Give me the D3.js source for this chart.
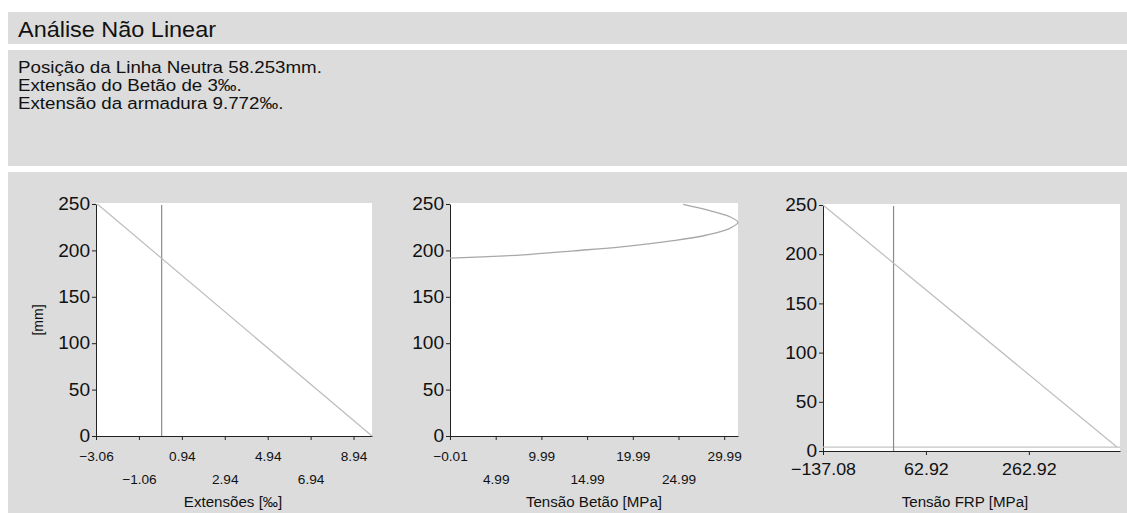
<!DOCTYPE html>
<html>
<head>
<meta charset="utf-8">
<script src="https://cdn.jsdelivr.net/npm/d3@7"></script>
<style>
  html, body { margin: 0; padding: 0; background: #ffffff; }
  svg { display: block; font-family: "Liberation Sans", Arial, sans-serif; }
</style>
</head>
<body>
<svg id="chart" width="1127" height="513"></svg>
<script>
// Cabeçalho e resultados
const titulo = "Análise Não Linear";
const resultados = [
  "Posição da Linha Neutra 58.253mm.",
  "Extensão do Betão de 3‰.",
  "Extensão da armadura 9.772‰."
];

// Diagrama de extensões
const extensoesValor = [-3.0, 9.80];
const extensoesAltura = [250, 0];
const extensoesTicks = [-3.06, -1.06, 0.94, 2.94, 4.94, 6.94, 8.94];

// Diagrama de tensões no betão
const betaoTensao = [0, 3.5, 8.0, 13.5, 19.0, 24.4, 28.1, 30.6, 31.5, 30.6, 28.4, 25.5];
const betaoAltura = [191.7, 193.0, 195.2, 199.5, 204.1, 210.5, 216.6, 223.8, 230.3, 236.3, 242.8, 249.5];
const betaoTicks = [-0.01, 4.99, 9.99, 14.99, 19.99, 24.99, 29.99];

// Diagrama de tensões no FRP
const frpTensao = [-137.08, 434];
const frpAltura = [250, 4];
const frpArmaduraAltura = 4;
const frpTicks = [-137.08, 62.92, 262.92];

const alturaTicks = [0, 50, 100, 150, 200, 250];

const svg = d3.select("#chart");

// Alarga ligeiramente o texto na horizontal
function alargar(sel, k) {
  sel.each(function () {
    const w = this.getComputedTextLength();
    d3.select(this).attr("textLength", w * k).attr("lengthAdjust", "spacingAndGlyphs");
  });
}

// Painéis cinzentos
const painelCor = "#dcdcdc";
svg.append("rect").attr("x", 8).attr("y", 12).attr("width", 1119).attr("height", 32).attr("fill", painelCor);
svg.append("rect").attr("x", 8).attr("y", 50).attr("width", 1119).attr("height", 116).attr("fill", painelCor);
svg.append("rect").attr("x", 8).attr("y", 172).attr("width", 1119).attr("height", 341).attr("fill", painelCor);

svg.append("text").attr("x", 18).attr("y", 37).attr("font-size", 22).attr("fill", "#111")
  .text(titulo).call(alargar, 1.065);
svg.selectAll("text.res").data(resultados).join("text")
  .attr("class", "res")
  .attr("x", 18).attr("y", (d, i) => 73 + i * 18)
  .attr("font-size", 16).attr("fill", "#111").text(d => d)
  .call(alargar, 1.17);

function grafico(cfg) {
  const x = d3.scaleLinear().domain(cfg.xDomain).range([cfg.left, cfg.right]);
  const y = d3.scaleLinear().domain([0, 250]).range([cfg.bottom, cfg.top]);

  svg.append("rect")
    .attr("x", cfg.left).attr("y", cfg.top - 1)
    .attr("width", cfg.right - cfg.left).attr("height", cfg.bottom - cfg.top + 1)
    .attr("fill", "#ffffff");

  const g = svg.append("g");

  // Eixo vertical
  const yAxis = g.append("g").attr("transform", `translate(${cfg.left},0)`)
    .call(d3.axisLeft(y).tickValues(alturaTicks).tickSizeInner(4).tickSizeOuter(0).tickPadding(2));
  yAxis.select(".domain").attr("stroke", "#222");
  yAxis.selectAll(".tick line").attr("stroke", "#222");
  yAxis.selectAll(".tick text").attr("font-size", 18).attr("fill", "#111")
    .attr("font-family", "Liberation Sans, Arial, sans-serif")
    .call(alargar, 1.06);

  // Eixo horizontal
  const xAxis = g.append("g").attr("transform", `translate(0,${cfg.bottom})`)
    .call(d3.axisBottom(x).tickValues(cfg.ticks).tickFormat(d3.format(".2f"))
      .tickSizeInner(4).tickSizeOuter(0).tickPadding(4));
  xAxis.select(".domain").attr("stroke", "#222");
  xAxis.selectAll(".tick line").attr("stroke", "#222");
  xAxis.selectAll(".tick text").attr("font-size", cfg.tickFont).attr("fill", "#111")
    .attr("font-family", "Liberation Sans, Arial, sans-serif")
    .attr("y", (d, i) => cfg.alternado && i % 2 === 1 ? cfg.row2 : cfg.row1)
    .attr("dy", "0")
    .call(alargar, 1.05);

  svg.append("text")
    .attr("x", cfg.tituloX).attr("y", cfg.tituloY)
    .attr("text-anchor", "middle").attr("font-size", 14).attr("fill", "#111")
    .text(cfg.titulo)
    .call(alargar, 1.08);

  return { x, y, g };
}

// 1) Extensões
const c1 = grafico({
  left: 96, right: 372, top: 204, bottom: 436,
  xDomain: [-3.06, 9.80], ticks: extensoesTicks,
  tickFont: 13, alternado: true, row1: 25, row2: 48,
  titulo: "Extensões [‰]", tituloX: 233, tituloY: 507
});
svg.append("text")
  .attr("transform", "translate(43,320) rotate(-90)")
  .attr("text-anchor", "middle").attr("font-size", 14).attr("fill", "#111")
  .text("[mm]");
svg.append("line")
  .attr("x1", c1.x(0)).attr("x2", c1.x(0))
  .attr("y1", c1.y(0)).attr("y2", c1.y(249))
  .attr("stroke", "#8a8a8a").attr("stroke-width", 1.2);
svg.append("path")
  .datum(d3.zip(extensoesValor, extensoesAltura))
  .attr("d", d3.line().x(d => c1.x(d[0])).y(d => c1.y(d[1])))
  .attr("fill", "none").attr("stroke", "#bdbdbd").attr("stroke-width", 1.2);

// 2) Tensão no betão
const c2 = grafico({
  left: 450, right: 738, top: 204, bottom: 436,
  xDomain: [-0.01, 31.5], ticks: betaoTicks,
  tickFont: 13, alternado: true, row1: 25, row2: 48,
  titulo: "Tensão Betão [MPa]", tituloX: 594, tituloY: 507
});
svg.append("path")
  .datum(d3.zip(betaoTensao, betaoAltura))
  .attr("d", d3.line().x(d => c2.x(d[0])).y(d => c2.y(d[1])).curve(d3.curveCatmullRom))
  .attr("fill", "none").attr("stroke", "#a8a8a8").attr("stroke-width", 1.3);

// 3) Tensão no FRP
const c3 = grafico({
  left: 823, right: 1120, top: 205, bottom: 451,
  xDomain: [-137.08, 440], ticks: frpTicks,
  tickFont: 17, alternado: false, row1: 24, row2: 24,
  titulo: "Tensão FRP [MPa]", tituloX: 965, tituloY: 507
});
svg.append("line")
  .attr("x1", c3.x(c3.x.domain()[0])).attr("x2", c3.x(c3.x.domain()[1]))
  .attr("y1", c3.y(frpArmaduraAltura)).attr("y2", c3.y(frpArmaduraAltura))
  .attr("stroke", "#c4c4c4").attr("stroke-width", 1.2);
svg.append("line")
  .attr("x1", c3.x(0)).attr("x2", c3.x(0))
  .attr("y1", c3.y(0)).attr("y2", c3.y(249))
  .attr("stroke", "#8a8a8a").attr("stroke-width", 1.2);
svg.append("path")
  .datum(d3.zip(frpTensao, frpAltura))
  .attr("d", d3.line().x(d => c3.x(d[0])).y(d => c3.y(d[1])))
  .attr("fill", "none").attr("stroke", "#bdbdbd").attr("stroke-width", 1.2);
</script>
</body>
</html>
